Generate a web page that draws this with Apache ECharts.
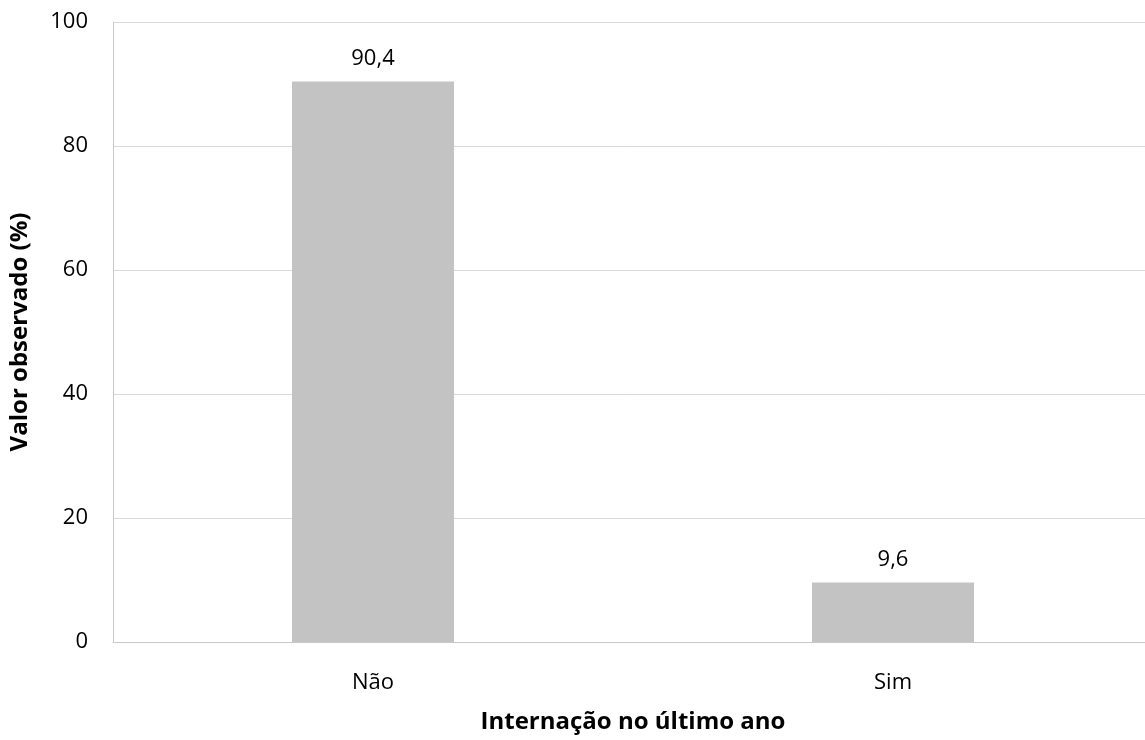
<!DOCTYPE html>
<html><head><meta charset="utf-8">
<script src="https://cdn.jsdelivr.net/npm/echarts@6/dist/echarts.min.js"></script>
<style>html,body{margin:0;padding:0;background:#fff}#c{width:1145px;height:740px}</style>
</head><body><div id="c"></div>
<script>
const categories = ["Não", "Sim"];
const values = [90.4, 9.6];
const yTicks = [0, 20, 40, 60, 80, 100];
const xTitle = "Internação no último ano";
const yTitle = "Valor observado (%)";

const font = "'Open Sans', sans-serif";
const chart = echarts.init(document.getElementById('c'));
chart.setOption({
  animation: false,
  grid: {left: 113, right: -8, top: 22, bottom: 98, containLabel: false, outerBoundsMode: 'none'},
  xAxis: {
    type: 'category', data: categories,
    axisLine: {show: true, lineStyle: {color: '#c8c8c8', width: 1}},
    axisTick: {show: false},
    axisLabel: {color: '#000', fontSize: 22, fontFamily: font, margin: 30},
    name: xTitle, nameLocation: 'middle', nameGap: 68,
    nameTextStyle: {color: '#000', fontSize: 24, fontWeight: 'bold', fontFamily: font}
  },
  yAxis: {
    type: 'value', min: yTicks[0], max: yTicks[yTicks.length - 1], interval: 20,
    axisLine: {show: true, lineStyle: {color: '#c8c8c8', width: 1}},
    axisTick: {show: false},
    splitLine: {show: true, lineStyle: {color: '#d9d9d9', width: 1}},
    axisLabel: {color: '#000', fontSize: 22, fontFamily: font, margin: 25},
    name: yTitle, nameLocation: 'middle', nameGap: 81, nameRotate: 90,
    nameTextStyle: {color: '#000', fontSize: 24, fontWeight: 'bold', fontFamily: font}
  },
  series: [{
    type: 'bar', data: values, barWidth: 162,
    itemStyle: {color: '#c3c3c3'},
    label: {show: true, position: 'top', distance: 12, color: '#000', fontSize: 22, fontFamily: font,
      formatter: p => p.value.toFixed(1).replace('.', ',')}
  }]
});
</script></body></html>
